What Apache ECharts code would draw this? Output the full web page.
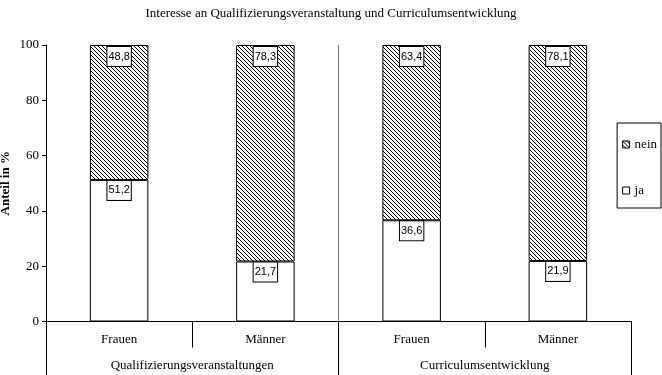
<!DOCTYPE html>
<html>
<head>
<meta charset="utf-8">
<script src="https://cdn.jsdelivr.net/npm/echarts@6/dist/echarts.min.js"></script>
<style>
html,body{margin:0;padding:0;background:#fff;}
#c{width:662px;height:375px;}
</style>
</head>
<body>
<div id="c"></div>
<script>
var titleText = 'Interesse an Qualifizierungsveranstaltung und Curriculumsentwicklung';
var categories = ['Frauen', 'Männer', 'Frauen', 'Männer'];
var groups = ['Qualifizierungsveranstaltungen', 'Curriculumsentwicklung'];
var jaValues = [51.2, 21.7, 36.6, 21.9];
var neinValues = [48.8, 78.3, 63.4, 78.1];
var yTicks = [0, 20, 40, 60, 80, 100];

function hatch() {
  var c = document.createElement('canvas');
  c.width = 4; c.height = 4;
  var g = c.getContext('2d');
  g.fillStyle = '#fff'; g.fillRect(0, 0, 4, 4);
  g.fillStyle = '#000';
  for (var i = 0; i < 4; i++) g.fillRect(i, i, 1, 1);
  return c;
}
var pat = { image: hatch(), repeat: 'repeat' };
var serif = '"Liberation Serif", "Times New Roman", serif';
var fmt = function (p) { return String(p.value).replace('.', ','); };
var labelStyle = {
  show: true, position: 'insideTop', distance: 1,
  formatter: fmt, color: '#000', fontFamily: '"Liberation Sans", Arial, sans-serif', fontSize: 11,
  backgroundColor: '#fff', borderColor: '#000', borderWidth: 1,
  padding: [3, 1, 3, 1], lineHeight: 13
};

var chart = echarts.init(document.getElementById('c'), null, { renderer: 'canvas' });
chart.setOption({
  animation: false,
  backgroundColor: '#fff',
  title: {
    text: titleText, left: 'center', top: 2,
    textStyle: { fontFamily: serif, fontSize: 13, fontWeight: 'normal', color: '#000' }
  },
  legend: {
    data: [{ name: 'nein', icon: 'rect' }, { name: 'ja', icon: 'rect' }],
    orient: 'vertical', right: 1, top: 123,
    itemWidth: 7, itemHeight: 7, itemGap: 33,
    padding: [15, 4, 11, 5],
    borderColor: '#000', borderWidth: 1,
    itemStyle: { borderWidth: 1, borderColor: '#000' },
    textStyle: { fontFamily: serif, fontSize: 13, color: '#000', lineHeight: 13 }
  },
  grid: { left: 46, right: 31, top: 45, bottom: 53.5, containLabel: false, outerBoundsMode: 'none' },
  xAxis: [
    {
      type: 'category', data: categories, position: 'bottom',
      axisLine: { show: true, lineStyle: { color: '#000', width: 1 } },
      axisTick: { show: true, length: 26, interval: 0, lineStyle: { color: '#000' } },
      axisLabel: { margin: 12, fontFamily: serif, fontSize: 13, color: '#000', interval: 0 },
      splitLine: { show: false }
    },
    {
      type: 'category', data: groups, position: 'bottom',
      axisLine: { show: false },
      axisTick: { show: true, length: 54, interval: 0, lineStyle: { color: '#000' } },
      axisLabel: { margin: 38, fontFamily: serif, fontSize: 13, color: '#000', interval: 0 },
      splitLine: { show: true, showMinLine: false, showMaxLine: false, interval: 0, lineStyle: { color: '#777', width: 1 } }
    }
  ],
  yAxis: {
    type: 'value', min: 0, max: 100, interval: 20,
    name: 'Anteil in %', nameLocation: 'middle', nameGap: 34, nameRotate: 90, nameMoveOverlap: false,
    nameTextStyle: { fontFamily: serif, fontSize: 13, fontWeight: 'bold', color: '#000' },
    axisLine: { show: true, lineStyle: { color: '#000' } },
    axisTick: { show: true, length: 4, lineStyle: { color: '#000' } },
    axisLabel: { margin: 7, fontFamily: serif, fontSize: 13, color: '#000',
      formatter: function (v) { return yTicks.indexOf(v) >= 0 ? String(v) : ''; } },
    splitLine: { show: false }
  },
  series: [
    {
      name: 'ja', type: 'bar', stack: 's', barWidth: '40%', xAxisIndex: 0,
      data: jaValues,
      itemStyle: { color: '#fff', borderColor: '#000', borderWidth: 1 },
      label: labelStyle
    },
    {
      name: 'nein', type: 'bar', stack: 's', barWidth: '40%', xAxisIndex: 0,
      data: neinValues,
      itemStyle: { color: pat, borderColor: '#000', borderWidth: 1 },
      label: Object.assign({}, labelStyle, { distance: 2 })
    }
  ]
});
</script>
</body>
</html>
